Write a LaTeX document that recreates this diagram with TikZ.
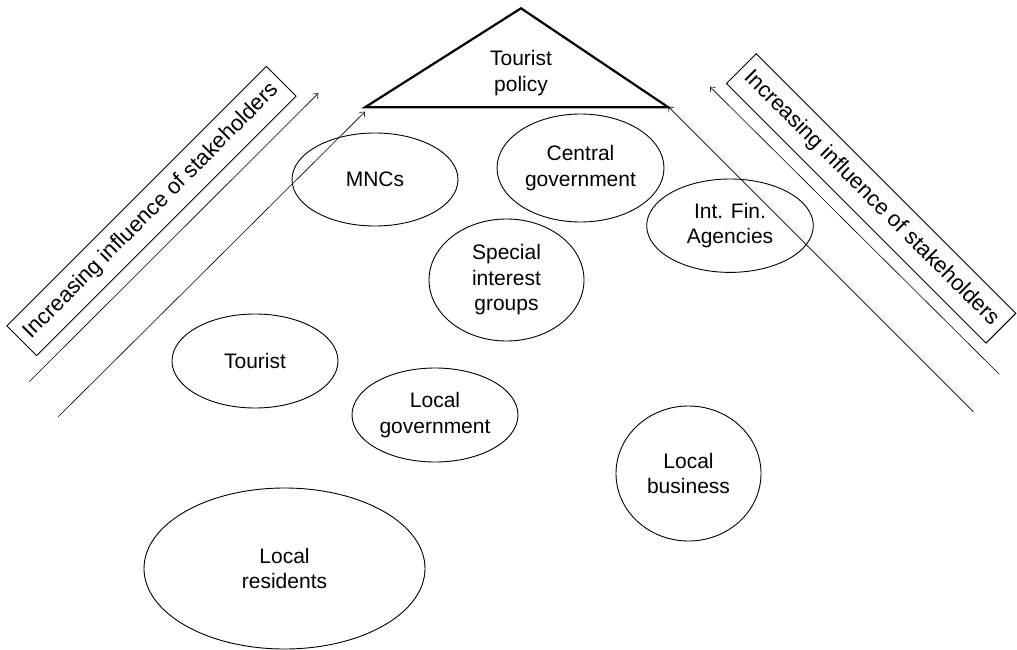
\documentclass[tikz,border=0pt]{standalone}
\usepackage{fontspec}
\setmainfont{Liberation Sans}
\usetikzlibrary{shapes.geometric,arrows.meta}
\begin{document}
\begin{tikzpicture}[x=1pt,y=-1pt,
  stake/.style={draw, line width=0.9pt, ellipse, inner sep=0pt, align=center,
                font=\fontsize{21}{25.5}\selectfont},
  band/.style={draw, line width=0.9pt, inner sep=0pt, minimum width=367pt,
               minimum height=42pt, font=\fontsize{22}{26}\selectfont},
  rise/.style={line width=0.6pt, -{Straight Barb[length=4pt,width=7pt]}},
  policy/.style={line width=2.2pt, line join=miter},
  label/.style={align=center, inner sep=0pt, font=\fontsize{21}{25.5}\selectfont}]
\useasboundingbox (0,0) rectangle (1017,650);

% policy triangle
\coordinate (top) at (521,8.3);
\coordinate (baseL) at (365,107.3);
\coordinate (baseR) at (668.3,107.3);
\draw[policy] (top) -- (baseL) -- (baseR) -- cycle;
\node[label] (policytext) at (521,73) {Tourist\\policy};

% stakeholder groups
\node[stake, minimum width=166pt, minimum height=93pt] (mnc) at (375,179.5) {MNCs};
\node[stake, minimum width=167pt, minimum height=108pt] (central) at (580.5,168) {Central\\government};
\node[stake, minimum width=166.6pt, minimum height=93.4pt] (intfin) at (730,225.7) {Int. Fin.\\Agencies};
\node[stake, minimum width=155pt, minimum height=122pt] (special) at (506.5,280) {Special\\interest\\groups};
\node[stake, minimum width=166pt, minimum height=94pt] (tourist) at (255,361) {Tourist};
\node[stake, minimum width=166pt, minimum height=94pt] (localgov) at (435,415) {Local\\government};
\node[stake, minimum width=145pt, minimum height=135pt] (business) at (688.5,473.5) {Local\\business};
\node[stake, minimum width=281pt, minimum height=161pt] (residents) at (284.5,568.5) {Local\\residents};

% influence labels
\node[band, rotate=45] (bandL) at (151.5,211) {Increasing influence of stakeholders};
\node[band, rotate=-45] (bandR) at (871.2,198.4) {Increasing influence of stakeholders};

% influence arrows, left side
\coordinate (l1s) at (29.3,381.7);
\coordinate (l1e) at (318.3,93.3);
\coordinate (l2s) at (58.3,416.7);
\coordinate (l2e) at (365,111.7);
\draw[rise] (l1s) -- (l1e);
\draw[rise] (l2s) -- (l2e);

% influence arrows, right side
\coordinate (r1s) at (999.3,374.3);
\coordinate (r1e) at (710,86.7);
\coordinate (r2s) at (973.3,411.7);
\coordinate (r2e) at (668.3,106.7);
\draw[rise] (r1s) -- (r1e);
\draw[rise] (r2s) -- (r2e);
\end{tikzpicture}
\end{document}
